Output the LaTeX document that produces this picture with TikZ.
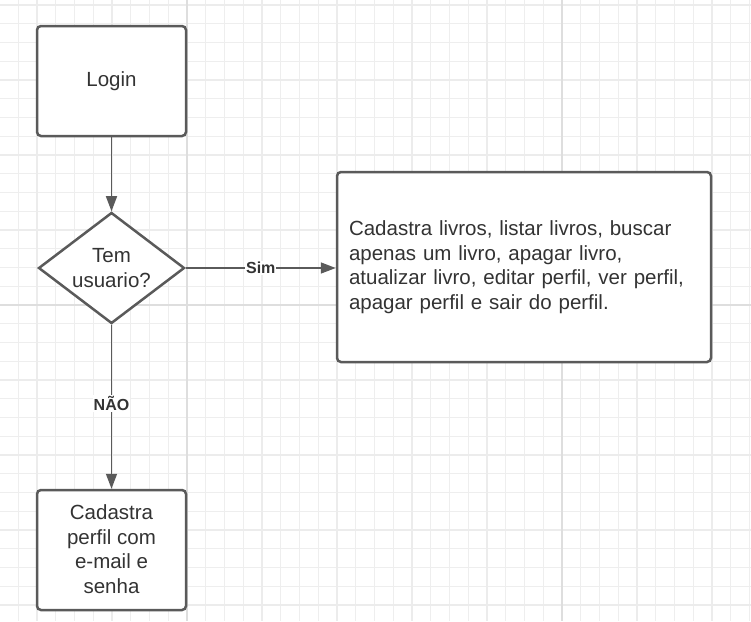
\documentclass[tikz,border=0pt]{standalone}
\usepackage{fontspec}
\setmainfont{Liberation Sans}
\usetikzlibrary{arrows.meta,shapes.geometric}
\definecolor{linegray}{HTML}{5A5A5A}
\definecolor{textgray}{HTML}{333333}
\definecolor{gridminor}{HTML}{EEEEEE}
\definecolor{gridmid}{HTML}{ECECEC}
\definecolor{gridmajor}{HTML}{DEDEDE}
\tikzset{
  stepbox/.style={draw=linegray, line width=2.5pt, rounded corners=4pt, fill=white,
    text=textgray, align=center, inner sep=0pt, font=\fontsize{20.5}{24.5}\selectfont},
  decision/.style={diamond, draw=linegray, line width=2.5pt, fill=white, text=textgray,
    align=center, inner sep=0pt, aspect=1.31, minimum width=146pt, minimum height=111pt,
    font=\fontsize{20.5}{25}\selectfont},
  flow/.style={draw=linegray, line width=1.5pt, -{Triangle[length=15pt,width=11pt]}},
  flowlabel/.style={fill=white, text=textgray, inner sep=1pt,
    font=\bfseries\fontsize{16}{18}\selectfont}
}
\begin{document}
\begin{tikzpicture}[x=1pt,y=-1pt]
          	\useasboundingbox[fill=white] (0,0) rectangle (751,621);
          	% grid
          	\foreach \gx in {0,...,39} \draw[gridminor, line width=1pt] (18.25+18.75*\gx,0) -- (18.25+18.75*\gx,621);
          	\foreach \gy in {0,...,33} \draw[gridminor, line width=1pt] (0,5+18.75*\gy) -- (751,5+18.75*\gy);
          	\foreach \gx in {37,112,262,337,412,487,637,712} \draw[gridmid, line width=1.1pt] (\gx,0) -- (\gx,621);
          	\foreach \gy in {5,80,155,230,380,455,530,605} \draw[gridmid, line width=1.1pt] (0,\gy) -- (751,\gy);
          	\draw[gridmajor, line width=1.8pt] (187,0) -- (187,621) (562,0) -- (562,621) (0,305) -- (751,305);
          	% shapes
          	\node[stepbox, minimum width=149pt, minimum height=110pt] (login) at (111.5,81) {Login};
          	\node[decision] (temuser) at (111.5,268) {Tem\\usuario?};
          	\node[stepbox, minimum width=374pt, minimum height=190pt, align=left, text width=350pt,
          	  inner xsep=12pt] (menu) at (524,267) {Cadastra livros, listar livros, buscar\\
          	  apenas um livro, apagar livro,\\
          	  atualizar livro, editar perfil, ver perfil,\\
          	  apagar perfil e sair do perfil.};
          	\node[stepbox, minimum width=149pt, minimum height=120pt, text depth=2pt] (cadastro) at (111.5,550)
          	  {Cadastra\\perfil com\\e-mail e\\senha};
          	% connectors
          	\draw[flow] (login) -- (temuser);
          	\draw[flow] (temuser.east) -- node[flowlabel, pos=0.5] {Sim} (temuser.east -| menu.west);
          	\draw[flow] (temuser) -- node[flowlabel, pos=0.48] {NÃO} (cadastro);
\end{tikzpicture}
\end{document}
